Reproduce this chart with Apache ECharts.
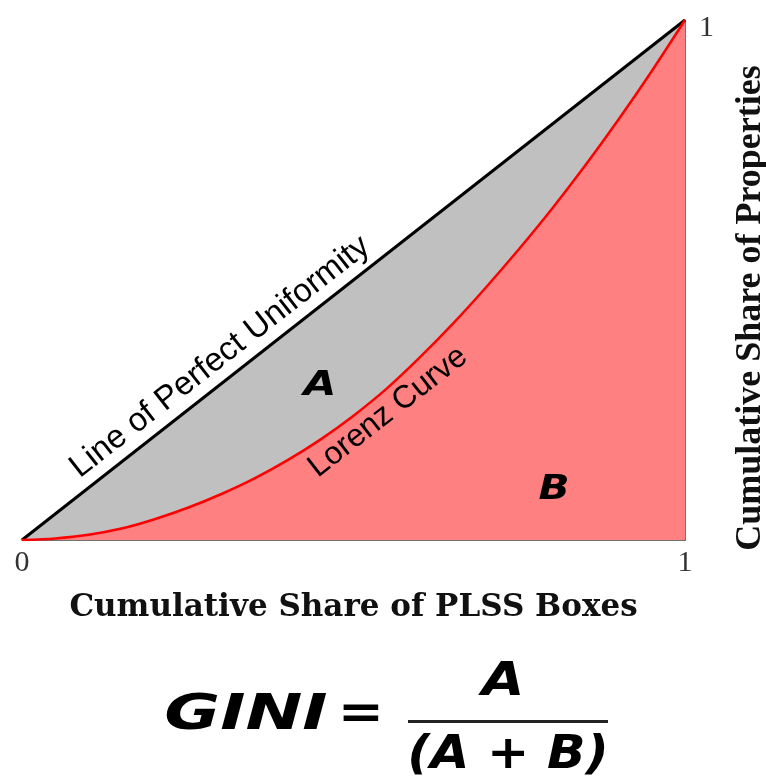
<!DOCTYPE html>
<html><head><meta charset="utf-8">
<script src="https://cdn.jsdelivr.net/npm/echarts@6/dist/echarts.min.js"></script>
<style>html,body{margin:0;padding:0;background:#fff}#c{width:766px;height:782px}</style>
</head><body><div id="c"></div>
<script>
const uniformityX = [0, 1];
const uniformityY = [0, 1];
const lorenzX = [0, 0.05, 0.1, 0.15, 0.2, 0.25, 0.3, 0.35, 0.4, 0.45, 0.5, 0.55, 0.6, 0.65, 0.7, 0.75, 0.8, 0.85, 0.9, 0.95, 1];
const lorenzY = [0, 0.003, 0.010, 0.022, 0.040, 0.062, 0.088, 0.118, 0.153, 0.193, 0.239, 0.291, 0.351, 0.416, 0.486, 0.560, 0.638, 0.721, 0.809, 0.902, 1];
const xTickLabels = ['0', '1'];
const yTickLabels = ['1'];

const chart = echarts.init(document.getElementById('c'));
const pairs = (xs, ys) => xs.map((x, i) => [x, ys[i]]);
chart.setOption({
  animation: false,
  grid: { left: 22, right: 81, top: 20, bottom: 242, outerBoundsMode: 'none', containLabel: false },
  xAxis: {
    type: 'value', min: 0, max: 1, interval: 1,
    axisLine: { show: true, onZero: false, lineStyle: { color: '#444', width: 1.5 } },
    axisTick: { show: false }, splitLine: { show: false },
    axisLabel: { formatter: v => xTickLabels[v], fontFamily: 'Liberation Serif', fontSize: 30, color: '#333', margin: 8 },
    name: 'Cumulative Share of PLSS Boxes', nameLocation: 'middle', nameGap: 52,
    nameTextStyle: { fontFamily: 'DejaVu Serif', fontWeight: 'bold', fontSize: 31, color: '#111' }
  },
  yAxis: {
    type: 'value', min: 0, max: 1, interval: 1, position: 'right',
    axisLine: { show: true, onZero: false, lineStyle: { color: '#444', width: 1.5 } },
    axisTick: { show: false }, splitLine: { show: false },
    axisLabel: { formatter: v => (v === 1 ? yTickLabels[0] : ''), fontFamily: 'Liberation Serif', fontSize: 30, color: '#333', margin: 14, verticalAlign: 'top', lineHeight: 16 },
    name: 'Cumulative Share of Properties', nameLocation: 'middle', nameGap: 48, nameRotate: 90,
    nameTextStyle: { fontFamily: 'Liberation Serif', fontWeight: 'bold', fontSize: 36, color: '#111', padding: [0, 56, 0, 0] }
  },
  series: [
    { type: 'line', data: pairs(uniformityX, uniformityY), symbol: 'none', z: 2,
      lineStyle: { color: '#000', width: 3 }, areaStyle: { color: '#C0C0C0', opacity: 1 } },
    { type: 'line', data: pairs(lorenzX, lorenzY), symbol: 'none', smooth: 0.3, z: 3,
      lineStyle: { color: '#FF0000', width: 2.5 }, areaStyle: { color: '#FF8080', opacity: 1 } }
  ],
  graphic: [
    { type: 'text', x: 220, y: 357, rotation: 38.1 * Math.PI / 180, z: 10,
      style: { text: 'Line of Perfect Uniformity', fontFamily: 'Liberation Sans', fontSize: 33, fill: '#000', align: 'center', verticalAlign: 'middle' } },
    { type: 'text', x: 388, y: 412, rotation: 38 * Math.PI / 180, z: 10,
      style: { text: 'Lorenz Curve', fontFamily: 'Liberation Sans', fontSize: 32, fill: '#000', align: 'center', verticalAlign: 'middle' } },
    { type: 'text', x: 320, y: 386, scaleX: 1.25, z: 10,
      style: { text: 'A', fontFamily: 'DejaVu Sans', fontWeight: 'bold', fontStyle: 'italic', fontSize: 34, fill: '#000', align: 'center', verticalAlign: 'middle' } },
    { type: 'text', x: 554, y: 490, scaleX: 1.2, z: 10,
      style: { text: 'B', fontFamily: 'DejaVu Sans', fontWeight: 'bold', fontStyle: 'italic', fontSize: 34, fill: '#000', align: 'center', verticalAlign: 'middle' } },
    { type: 'text', x: 246, y: 716, scaleX: 1.36, z: 10,
      style: { text: 'GINI', fontFamily: 'DejaVu Sans', fontWeight: 'bold', fontStyle: 'italic', fontSize: 50, fill: '#000', align: 'center', verticalAlign: 'middle' } },
    { type: 'text', x: 361, y: 716, scaleX: 1.15, z: 10,
      style: { text: '=', fontFamily: 'DejaVu Sans', fontWeight: 'bold', fontSize: 48, fill: '#000', align: 'center', verticalAlign: 'middle' } },
    { type: 'text', x: 503, y: 683, scaleX: 1.2, z: 10,
      style: { text: 'A', fontFamily: 'DejaVu Sans', fontWeight: 'bold', fontStyle: 'italic', fontSize: 46, fill: '#000', align: 'center', verticalAlign: 'middle' } },
    { type: 'rect', shape: { x: 408, y: 720, width: 200, height: 3 }, style: { fill: '#222' }, z: 10 },
    { type: 'text', x: 508, y: 756, scaleX: 1.1, z: 10,
      style: { text: '(A + B)', fontFamily: 'DejaVu Sans', fontWeight: 'bold', fontStyle: 'italic', fontSize: 46, fill: '#000', align: 'center', verticalAlign: 'middle' } }
  ]
});
</script></body></html>
